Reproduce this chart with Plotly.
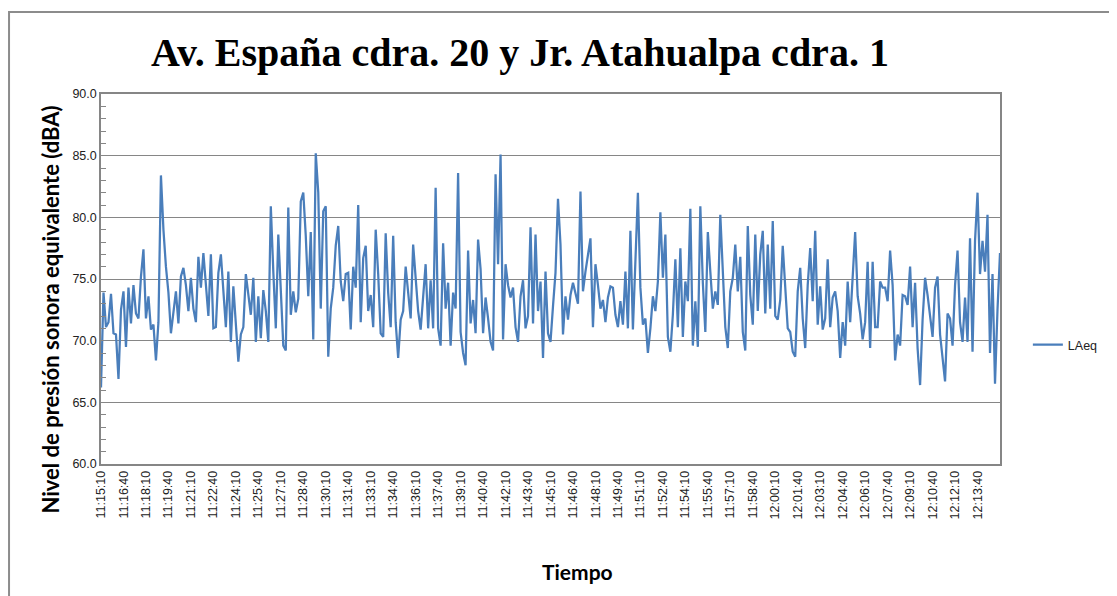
import datetime as dt
import plotly.graph_objects as go

# LAeq cada 10 s, 11:15:10 - 12:15:10
laeq = [
    66.2, 73.9, 71.1, 71.5, 73.8, 70.6, 70.5, 66.9, 72.5, 74.0, 69.5, 74.3, 71.4, 74.5, 72.2,
    71.8, 75.2, 77.4, 71.8, 73.6, 70.9, 71.3, 68.4, 71.5, 83.4, 79.0, 76.0, 73.9, 70.6, 72.2,
    74.0, 71.4, 75.2, 75.9, 74.5, 72.4, 75.1, 72.6, 71.5, 76.8, 74.3, 77.1, 74.5, 72.0, 77.0,
    71.0, 71.1, 75.5, 77.0, 74.3, 71.1, 75.6, 69.9, 74.4, 71.3, 68.3, 70.5, 71.1, 75.4, 73.7,
    72.1, 75.1, 69.9, 73.6, 70.2, 74.1, 72.4, 69.9, 80.9, 75.6, 71.0, 78.6, 74.3, 69.6, 69.2,
    80.8, 72.1, 74.0, 72.3, 73.4, 81.3, 82.0, 78.5, 73.6, 78.8, 70.1, 85.2, 82.0, 72.6, 80.5,
    80.9, 68.7, 72.6, 74.3, 77.7, 79.3, 74.8, 73.2, 75.4, 75.5, 70.9, 76.0, 74.3, 81.0, 71.5,
    76.7, 77.7, 72.4, 73.7, 71.1, 79.0, 75.4, 70.6, 70.3, 78.7, 73.9, 71.1, 78.5, 71.5, 68.6,
    71.7, 72.4, 76.0, 73.9, 71.8, 77.8, 74.8, 72.4, 70.9, 73.9, 76.2, 71.0, 74.9, 71.0, 82.4,
    71.0, 69.6, 77.9, 72.6, 74.7, 69.6, 73.9, 72.6, 83.6, 70.7, 69.0, 68.0, 77.3, 71.4, 73.3,
    70.6, 78.2, 75.8, 70.6, 73.5, 71.8, 69.9, 69.2, 83.5, 76.2, 85.1, 70.1, 76.2, 74.5, 73.5,
    74.3, 71.1, 69.9, 73.6, 74.9, 71.0, 72.0, 79.2, 71.4, 78.6, 72.4, 74.8, 68.6, 75.6, 70.6,
    69.9, 72.8, 75.5, 81.5, 77.8, 70.5, 73.6, 71.7, 73.7, 74.7, 73.7, 73.0, 82.1, 74.0, 75.6,
    77.0, 78.3, 71.1, 76.2, 74.5, 72.6, 73.3, 71.5, 73.5, 74.4, 74.3, 72.1, 71.1, 73.2, 71.3,
    75.6, 71.0, 78.9, 70.9, 77.0, 82.0, 74.3, 71.3, 71.8, 69.0, 71.0, 73.6, 72.4, 74.8, 80.4,
    75.1, 78.6, 70.3, 69.1, 72.1, 76.6, 71.1, 77.5, 70.3, 74.8, 73.2, 80.7, 69.6, 73.2, 69.5,
    80.9, 74.7, 70.7, 78.8, 75.6, 72.6, 74.0, 72.9, 80.2, 75.6, 71.1, 69.4, 74.0, 75.1, 77.8,
    74.0, 76.8, 70.7, 69.2, 79.3, 73.7, 71.3, 78.6, 72.4, 77.0, 78.9, 72.2, 77.8, 72.6, 79.7,
    72.0, 71.7, 73.3, 77.7, 74.0, 71.0, 70.7, 69.1, 68.7, 74.0, 75.9, 71.8, 69.4, 74.5, 77.5,
    73.2, 78.9, 71.3, 74.4, 70.9, 71.8, 76.6, 71.1, 73.5, 74.0, 72.4, 68.6, 71.5, 69.6, 74.8,
    71.5, 75.4, 78.8, 73.6, 72.2, 70.1, 71.5, 76.4, 69.4, 76.4, 71.1, 71.1, 74.8, 74.3, 74.3,
    73.2, 77.3, 74.5, 68.4, 70.5, 69.6, 73.7, 73.6, 72.9, 76.0, 71.1, 74.7, 69.4, 66.4, 71.7,
    75.1, 73.7, 71.7, 70.3, 74.3, 75.2, 70.5, 68.3, 66.7, 72.2, 71.8, 69.6, 74.5, 77.3, 71.5,
    69.9, 73.5, 69.9, 78.3, 69.1, 78.1, 82.0, 75.4, 78.1, 75.6, 80.2, 69.0, 75.4, 66.5, 72.5,
    77.1,
]

inicio = dt.datetime(2000, 1, 1, 11, 15, 10)
tiempo = [(inicio + dt.timedelta(seconds=10 * i)).strftime("%H:%M:%S") for i in range(len(laeq))]
etiquetas_x = tiempo[0:352:9]
y_ticks = [60, 65, 70, 75, 80, 85, 90]

fig = go.Figure()
fig.add_trace(go.Scatter(
    x=tiempo, y=laeq, mode="lines", name="LAeq",
    line=dict(color="#4a7ebb", width=2.25),
))

# la página tiene 8 px de margen, el gráfico se dibuja en 1109x588
fig.update_layout(
    width=1109, height=588,
    margin=dict(l=93, r=117, t=86, b=132),
    paper_bgcolor="white", plot_bgcolor="white",
    font=dict(family="Liberation Sans", color="#222222"),
    showlegend=True,
    legend=dict(x=1.031, y=0.3216, xanchor="left", yanchor="middle",
                font=dict(size=12.5, color="#222222"), bgcolor="rgba(0,0,0,0)"),
    title=dict(text="<b>Av. España cdra. 20 y Jr. Atahualpa cdra. 1</b>",
               font=dict(family="Liberation Serif", size=40, color="black"),
               x=0.466, xanchor="center", xref="paper", y=0.925, yanchor="middle"),
)

fig.update_xaxes(
    type="category", range=[0, len(laeq) - 1],
    tickmode="array", tickvals=etiquetas_x, ticktext=etiquetas_x,
    tickangle=-90, tickfont=dict(size=12.5, color="#222222"),
    showgrid=False, showline=True, linecolor="#868686", linewidth=1.5, mirror=True,
    ticks="", ticklen=0,
)
fig.update_yaxes(
    range=[60, 90], tickvals=y_ticks, tickformat=".1f",
    tickfont=dict(size=12.5, color="#222222"),
    showgrid=True, gridcolor="#868686", gridwidth=1,
    showline=True, linecolor="#868686", linewidth=1.5, mirror=True,
    ticks="inside", ticklen=5, tickcolor="#868686",
    minor=dict(dtick=1, ticks="inside", ticklen=5, tickcolor="#868686", showgrid=False),
    zeroline=False,
)

fig.add_annotation(text="<b>Nivel de presión sonora equivalente (dBA)</b>",
                   xref="paper", yref="paper", x=-0.0734, y=0.416, textangle=-90,
                   showarrow=False, font=dict(family="Lato", size=22, color="black"))
fig.add_annotation(text="<b>Tiempo</b>", xref="paper", yref="paper", x=0.5295, y=-0.33,
                   showarrow=False, font=dict(family="Lato", size=21, color="black"))

# borde del área del gráfico
fig.add_shape(type="rect", xref="paper", yref="paper",
              x0=-0.1023, x1=1.128, y0=-0.4, y1=1.2216,
              line=dict(color="#8c8c8c", width=2), fillcolor="rgba(0,0,0,0)")

fig.write_html("out.html")
